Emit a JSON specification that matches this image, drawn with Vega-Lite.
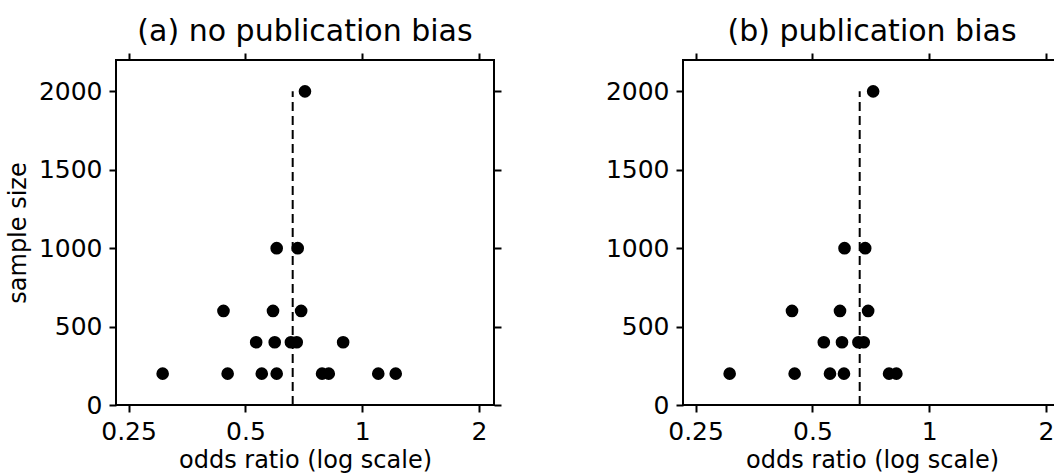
{
  "$schema": "https://vega.github.io/schema/vega-lite/v6.json",
  "background": "white",
  "padding": {"left": 5, "top": 16, "right": 5, "bottom": 5},
  "spacing": 101,
  "datasets": {
    "a": [
      {"or": 0.712, "n": 2000},
      {"or": 0.602, "n": 1000}, {"or": 0.682, "n": 1000},
      {"or": 0.439, "n": 600}, {"or": 0.589, "n": 600}, {"or": 0.696, "n": 600},
      {"or": 0.533, "n": 400}, {"or": 0.595, "n": 400}, {"or": 0.655, "n": 400}, {"or": 0.678, "n": 400}, {"or": 0.893, "n": 400},
      {"or": 0.306, "n": 200}, {"or": 0.45, "n": 200}, {"or": 0.551, "n": 200}, {"or": 0.602, "n": 200}, {"or": 0.788, "n": 200}, {"or": 0.82, "n": 200}, {"or": 1.1, "n": 200}, {"or": 1.22, "n": 200}
    ],
    "b": [
      {"or": 0.717, "n": 2000},
      {"or": 0.605, "n": 1000}, {"or": 0.684, "n": 1000},
      {"or": 0.443, "n": 600}, {"or": 0.589, "n": 600}, {"or": 0.696, "n": 600},
      {"or": 0.535, "n": 400}, {"or": 0.596, "n": 400}, {"or": 0.657, "n": 400}, {"or": 0.678, "n": 400},
      {"or": 0.306, "n": 200}, {"or": 0.45, "n": 200}, {"or": 0.555, "n": 200}, {"or": 0.603, "n": 200}, {"or": 0.788, "n": 200}, {"or": 0.823, "n": 200}
    ],
    "line": [
      {"or": 0.662, "n0": 0, "n1": 2000}
    ]
  },
  "config": {
    "view": {"stroke": "black", "strokeWidth": 2},
    "font": "DejaVu Sans",
    "axis": {
      "domain": false,
      "grid": false,
      "tickColor": "black",
      "tickWidth": 2,
      "tickSize": 7,
      "labelFont": "DejaVu Sans",
      "labelFontSize": 25,
      "labelColor": "black",
      "labelPadding": 7,
      "labelFlush": false,
      "labelOverlap": false,
      "titleFont": "DejaVu Sans",
      "titleFontSize": 24,
      "titleFontWeight": "normal",
      "titleColor": "black"
    },
    "title": {
      "font": "DejaVu Sans",
      "fontSize": 30,
      "fontWeight": "normal",
      "color": "black",
      "anchor": "middle",
      "offset": 5
    }
  },
  "hconcat": [
    {
      "title": "(a) no publication bias",
      "width": 378,
      "height": 345,
      "resolve": {"axis": {"x": "independent", "y": "independent"}},
      "layer": [
        {
          "data": {"name": "a"},
          "mark": {"type": "circle", "size": 160, "color": "black", "opacity": 1},
          "encoding": {
            "x": {"field": "or", "type": "quantitative",
                  "scale": {"type": "log", "base": 2, "domain": [0.232, 2.186], "nice": false},
                  "axis": {"orient": "bottom", "values": [0.25, 0.5, 1, 2], "format": "~g", "title": "odds ratio (log scale)", "titlePadding": 4}},
            "y": {"field": "n", "type": "quantitative",
                  "scale": {"domain": [0, 2200], "nice": false, "zero": false},
                  "axis": {"orient": "left", "values": [0, 500, 1000, 1500, 2000], "format": "d", "title": "sample size", "titlePadding": 8}}
          }
        },
        {
          "data": {"name": "line"},
          "mark": {"type": "rule", "color": "black", "strokeWidth": 2, "strokeDash": [9, 5]},
          "encoding": {
            "x": {"field": "or", "type": "quantitative",
                  "axis": {"orient": "top", "values": [0.25, 0.5, 1, 2], "labels": false, "title": null}},
            "y": {"field": "n0", "type": "quantitative",
                  "axis": {"orient": "right", "values": [0, 500, 1000, 1500, 2000], "labels": false, "title": null}},
            "y2": {"field": "n1"}
          }
        }
      ]
    },
    {
      "title": "(b) publication bias",
      "width": 378,
      "height": 345,
      "resolve": {"axis": {"x": "independent", "y": "independent"}},
      "layer": [
        {
          "data": {"name": "b"},
          "mark": {"type": "circle", "size": 160, "color": "black", "opacity": 1},
          "encoding": {
            "x": {"field": "or", "type": "quantitative",
                  "scale": {"type": "log", "base": 2, "domain": [0.232, 2.186], "nice": false},
                  "axis": {"orient": "bottom", "values": [0.25, 0.5, 1, 2], "format": "~g", "title": "odds ratio (log scale)", "titlePadding": 4}},
            "y": {"field": "n", "type": "quantitative",
                  "scale": {"domain": [0, 2200], "nice": false, "zero": false},
                  "axis": {"orient": "left", "values": [0, 500, 1000, 1500, 2000], "format": "d", "title": null}}
          }
        },
        {
          "data": {"name": "line"},
          "mark": {"type": "rule", "color": "black", "strokeWidth": 2, "strokeDash": [9, 5]},
          "encoding": {
            "x": {"field": "or", "type": "quantitative",
                  "axis": {"orient": "top", "values": [0.25, 0.5, 1, 2], "labels": false, "title": null}},
            "y": {"field": "n0", "type": "quantitative",
                  "axis": {"orient": "right", "values": [0, 500, 1000, 1500, 2000], "labels": false, "title": null}},
            "y2": {"field": "n1"}
          }
        }
      ]
    }
  ]
}
